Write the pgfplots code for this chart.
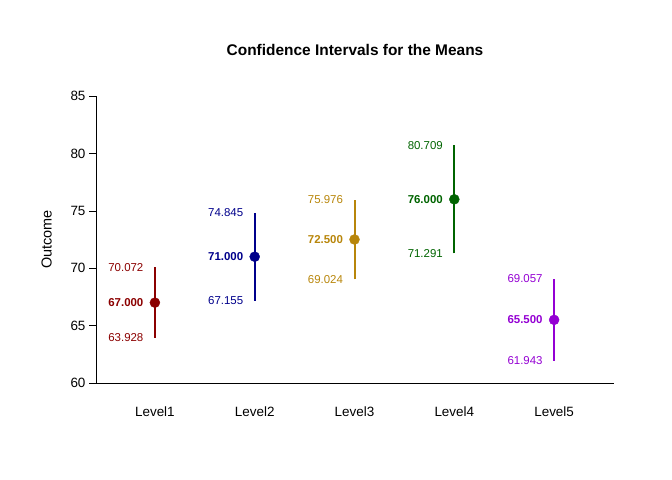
\documentclass[border=0pt]{standalone}
\usepackage{pgfplots}
\pgfplotsset{compat=1.18}
\usepackage{fontspec}
\setmainfont{Liberation Sans}
\definecolor{c1}{HTML}{8B0000}
\definecolor{c2}{HTML}{00008B}
\definecolor{c3}{HTML}{B8860B}
\definecolor{c4}{HTML}{006400}
\definecolor{c5}{HTML}{9400D3}
\begin{document}
\begin{tikzpicture}[x=1bp,y=1bp]
\path[use as bounding box] (0,0) rectangle (672,480);
\begin{axis}[at={(96bp,97bp)},anchor=south west,scale only axis,
 width=518bp,height=287bp,xmin=0.41,xmax=5.6,ymin=60,ymax=85,
 axis lines=left, axis line style={-,black},
 xtick={1,2,3,4,5},xticklabels={Level1,Level2,Level3,Level4,Level5},
 xtick style={draw=none}, xticklabel style={yshift=-13bp},
 ytick={60,65,70,75,80,85}, ytick style={black}, tick align=outside,
 major tick length=7bp,
 /pgf/number format/assume math mode=true,
 ticklabel style={font=\fontsize{13.5}{15}\selectfont},
 ylabel={Outcome}, ylabel style={font=\fontsize{14.5}{16}\selectfont, yshift=12bp},
 title={\textbf{Confidence Intervals for the Means}},
 title style={font=\fontsize{15.5}{18}\selectfont, yshift=31bp},
 clip=false]
\foreach \x/\m/\l/\u/\c in {1/67.000/63.928/70.072/c1,2/71.000/67.155/74.845/c2,3/72.500/69.024/75.976/c3,4/76.000/71.291/80.709/c4,5/65.500/61.943/69.057/c5}{
 \edef\tmp{\noexpand\addplot[\c,line width=2bp,mark=none] coordinates {(\x,\l) (\x,\u)};
 \noexpand\addplot[\c,only marks,mark=*,mark size=5bp] coordinates {(\x,\m)};
 \noexpand\node[\c,anchor=east,font=\noexpand\fontsize{11.5}{13}\noexpand\selectfont] at (axis cs:\x,\u) [xshift=-8bp] {\u};
 \noexpand\node[\c,anchor=east,font=\noexpand\fontsize{11.5}{13}\noexpand\selectfont] at (axis cs:\x,\l) [xshift=-8bp] {\l};
 \noexpand\node[\c,anchor=east,font=\noexpand\fontsize{11.5}{13}\noexpand\selectfont\noexpand\bfseries] at (axis cs:\x,\m) [xshift=-8bp] {\m};
 }\tmp
}
\end{axis}
\end{tikzpicture}
\end{document}
